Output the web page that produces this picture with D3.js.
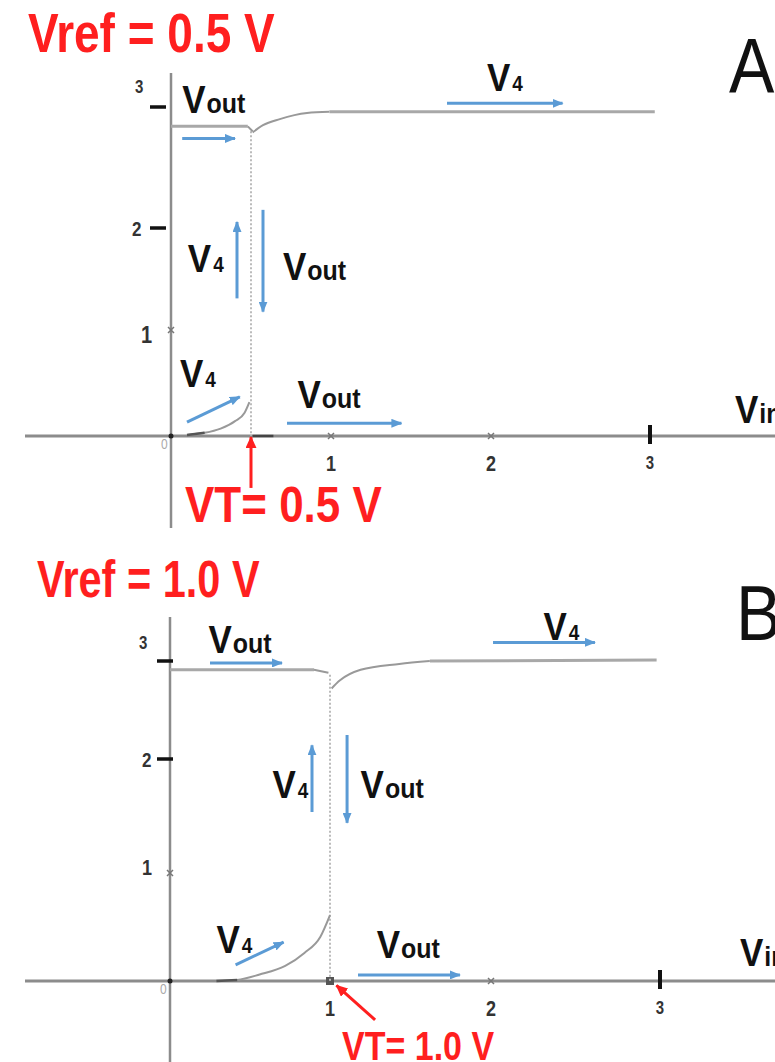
<!DOCTYPE html>
<html>
<head>
<meta charset="utf-8">
<script src="https://cdn.jsdelivr.net/npm/d3@7"></script>
<style>
  body { margin: 0; background: #fff; }
  svg { display: block; }
</style>
</head>
<body>
<script>
// ---------- data (volts) ----------
const xTicks = [1, 2, 3];
const yTicks = [1, 2, 3];

// Vref = 0.5 V
const vtA = 0.5;
const voutBeforeA = [[0, 2.84], [0.48, 2.84], [0.51, 2.80]];
const voutAfterA = [[0.51, 0], [0.64, 0]];
const v4BeforeA = [[0.10, 0.01], [0.21, 0.03], [0.31, 0.07], [0.40, 0.14], [0.46, 0.22], [0.49, 0.32]];
const v4AfterA = [[0.51, 2.79], [0.575, 2.85], [0.68, 2.90], [0.85, 2.95], [0.99, 2.96], [3.03, 2.96]];
const jumpA = [2.80, 0];
const labelsA = [
  { main: "V", sub: "out", x: 0.07, y: 2.95 },
  { main: "V", sub: "4", x: 1.975, y: 3.13 },
  { main: "V", sub: "4", x: 0.105, y: 1.57 },
  { main: "V", sub: "out", x: 0.70, y: 1.49 },
  { main: "V", sub: "4", x: 0.056, y: 0.46 },
  { main: "V", sub: "out", x: 0.79, y: 0.26 }
];
const arrowsA = [
  [[0.07, 2.74], [0.40, 2.74]],
  [[1.725, 3.03], [2.45, 3.03]],
  [[0.4125, 1.31], [0.4125, 2.05]],
  [[0.575, 2.15], [0.575, 1.18]],
  [[0.10, 0.13], [0.43, 0.37]],
  [[0.725, 0.12], [1.44, 0.12]]
];
const vtArrowA = [[0.5, -0.49], [0.5, -0.01]];

// Vref = 1.0 V
const vtB = 1.0;
const voutBeforeB = [[0, 2.91], [0.90, 2.91], [0.99, 2.88]];
const voutAfterB = [];
const v4BeforeB = [[0.29, 0], [0.42, 0.01], [0.56, 0.06], [0.72, 0.14], [0.84, 0.26], [0.94, 0.41], [1.0, 0.61]];
const v4AfterB = [[1.01, 2.72], [1.06, 2.80], [1.19, 2.91], [1.43, 2.97], [1.62, 3.0], [2.98, 3.01]];
const jumpB = [2.86, 0];
const labelsB = [
  { main: "V", sub: "out", x: 0.24, y: 3.08 },
  { main: "V", sub: "4", x: 2.31, y: 3.21 },
  { main: "V", sub: "4", x: 0.64, y: 1.66 },
  { main: "V", sub: "out", x: 1.19, y: 1.66 },
  { main: "V", sub: "4", x: 0.29, y: 0.26 },
  { main: "V", sub: "out", x: 1.29, y: 0.21 }
];
const arrowsB = [
  [[0.25, 2.98], [0.70, 2.98]],
  [[2.012, 3.19], [2.615, 3.19]],
  [[0.8875, 1.535], [0.8875, 2.14]],
  [[1.106, 2.245], [1.106, 1.44]],
  [[0.41, 0.15], [0.71, 0.36]],
  [[1.174, 0.056], [1.807, 0.056]]
];
const vtArrowB = [[1.28, -0.36], [1.04, -0.04]];

// ---------- layout ----------
const W = 775, H = 1062;
const BLUE = "#5b9bd5", RED = "#ff1f1f", AXIS = "#8c8c8c", CURVE = "#999";
const FONT = "'Liberation Sans', Arial, sans-serif";

const panels = [
  {
    letter: "A", vref: "Vref = 0.5 V", vtText: "VT= 0.5 V", vt: vtA,
    xRange: [171, 331, 491, 650], yRange: [436, 330, 228, 107],
    axisX: [25, 775], axisY: [73, 528],
    voutBefore: voutBeforeA, voutAfter: voutAfterA, v4Before: v4BeforeA, v4After: v4AfterA,
    jump: jumpA, labels: labelsA, arrows: arrowsA, vtArrow: vtArrowA,
    title: { x: 28, y: 52, size: 46, k: 1.2 },
    vtLabel: { x: 185, y: 522, size: 44, k: 1.15 },
    letterPos: { x: 729, y: 93 }, vin: { x: 735, y: 423 },
    yTickFmt: { 1: { dx: -30, dy: 13, size: 20 }, 2: { dx: -39, dy: 8, size: 17 }, 3: { dx: -36, dy: -14, size: 15 } },
    xDot1: false
  },
  {
    letter: "B", vref: "Vref = 1.0 V", vtText: "VT= 1.0 V", vt: vtB,
    xRange: [170, 330, 491, 660], yRange: [981, 873, 759, 661],
    axisX: [25, 775], axisY: [617, 1062],
    voutBefore: voutBeforeB, voutAfter: voutAfterB, v4Before: v4BeforeB, v4After: v4AfterB,
    jump: jumpB, labels: labelsB, arrows: arrowsB, vtArrow: vtArrowB,
    title: { x: 37, y: 597, size: 41.5, k: 1.24 },
    vtLabel: { x: 342, y: 1060, size: 34, k: 1.2 },
    letterPos: { x: 736, y: 640 }, vin: { x: 740, y: 966 },
    yTickFmt: { 1: { dx: -28, dy: 2, size: 18 }, 2: { dx: -28, dy: 8, size: 17 }, 3: { dx: -31, dy: -12, size: 15 } },
    xDot1: true
  }
];

const svg = d3.select("body").append("svg")
  .attr("width", W).attr("height", H)
  .attr("viewBox", `0 0 ${W} ${H}`);

const defs = svg.append("defs");
function marker(id, color, len, wid) {
  defs.append("marker")
    .attr("id", id)
    .attr("markerUnits", "userSpaceOnUse")
    .attr("markerWidth", len).attr("markerHeight", wid)
    .attr("refX", len - 1).attr("refY", wid / 2)
    .attr("orient", "auto")
    .append("path")
    .attr("d", `M0,0 L${len},${wid / 2} L0,${wid} Z`)
    .attr("fill", color);
}
marker("headBlue", BLUE, 11, 9);
marker("headRed", RED, 12, 11);

// stretched text: horizontal size from font-size, vertical stretch k
function stretchText(g, x, y, k) {
  return g.append("text")
    .attr("transform", `translate(${x},${y}) scale(1,${k})`)
    .attr("font-family", FONT);
}

panels.forEach(p => {
  const x = d3.scaleLinear().domain([0, 1, 2, 3]).range(p.xRange);
  const y = d3.scaleLinear().domain([0, 1, 2, 3]).range(p.yRange);
  const g = svg.append("g");

  // axes
  g.append("line")
    .attr("x1", p.axisX[0]).attr("x2", p.axisX[1])
    .attr("y1", y(0)).attr("y2", y(0))
    .attr("stroke", AXIS).attr("stroke-width", 3);
  g.append("line")
    .attr("x1", x(0)).attr("x2", x(0))
    .attr("y1", p.axisY[0]).attr("y2", p.axisY[1])
    .attr("stroke", AXIS).attr("stroke-width", 2.5);
  g.append("circle").attr("cx", x(0)).attr("cy", y(0)).attr("r", 2.5).attr("fill", "#222");
  stretchText(g, x(0) - 10, y(0) + 13, 1.2)
    .attr("font-size", 12).attr("fill", "#aaa").text("0");

  // x ticks
  xTicks.forEach(t => {
    const cx = x(t), cy = y(0);
    if (t === 3) {
      g.append("line").attr("x1", cx).attr("x2", cx).attr("y1", cy - 11).attr("y2", cy + 8)
        .attr("stroke", "#111").attr("stroke-width", 4);
    } else if (t === 1 && p.xDot1) {
      g.append("rect").attr("x", cx - 4).attr("y", cy - 4).attr("width", 8).attr("height", 8)
        .attr("fill", "#555");
    } else {
      g.append("path").attr("d", `M${cx - 3},${cy - 3}L${cx + 3},${cy + 3}M${cx - 3},${cy + 3}L${cx + 3},${cy - 3}`)
        .attr("stroke", "#777").attr("stroke-width", 1.5);
    }
    stretchText(g, cx, cy + (t === 3 ? 33 : 35), 1.2)
      .attr("text-anchor", "middle")
      .attr("font-size", t === 3 ? 15 : 18).attr("font-weight", "bold").attr("fill", "#333")
      .text(t);
  });

  // y ticks
  yTicks.forEach(t => {
    const cx = x(0), cy = y(t);
    const f = p.yTickFmt[t];
    if (t === 1) {
      g.append("path").attr("d", `M${cx - 3},${cy - 3}L${cx + 3},${cy + 3}M${cx - 3},${cy + 3}L${cx + 3},${cy - 3}`)
        .attr("stroke", "#777").attr("stroke-width", 1.5);
    } else {
      const x0 = p.letter === "A" ? cx - 21 : cx - 13;
      g.append("line").attr("x1", x0).attr("x2", x0 + 16).attr("y1", cy).attr("y2", cy)
        .attr("stroke", "#111").attr("stroke-width", 3.5);
    }
    stretchText(g, cx + f.dx, cy + f.dy, 1.2)
      .attr("font-size", f.size).attr("font-weight", "bold").attr("fill", "#333")
      .text(t);
  });

  const line = d3.line().x(d => x(d[0])).y(d => y(d[1]));
  const smooth = d3.line().x(d => x(d[0])).y(d => y(d[1])).curve(d3.curveMonotoneX);

  // threshold jump (dotted)
  g.append("line")
    .attr("x1", x(p.vt)).attr("x2", x(p.vt))
    .attr("y1", y(p.jump[0])).attr("y2", y(p.jump[1]))
    .attr("stroke", "#bbb").attr("stroke-width", 2).attr("stroke-dasharray", "2,2");

  // Vout branch before threshold (high), after threshold (low)
  g.append("path").datum(p.voutBefore.slice(0, 2)).attr("d", line)
    .attr("fill", "none").attr("stroke", "#a8a8a8").attr("stroke-width", 3);
  g.append("path").datum(p.voutBefore.slice(1)).attr("d", line)
    .attr("fill", "none").attr("stroke", CURVE).attr("stroke-width", 2);
  if (p.voutAfter.length) {
    g.append("path").datum(p.voutAfter).attr("d", line)
      .attr("fill", "none").attr("stroke", "#444").attr("stroke-width", 2.5);
  }

  // V4 branch before threshold (rising from 0), after threshold (near rail)
  g.append("path").datum(p.v4Before).attr("d", smooth)
    .attr("fill", "none").attr("stroke", CURVE).attr("stroke-width", 2);
  g.append("path").datum(p.v4Before.slice(0, 2)).attr("d", line)
    .attr("fill", "none").attr("stroke", "#555").attr("stroke-width", 2.5);
  g.append("path").datum(p.v4After.slice(0, -1)).attr("d", smooth)
    .attr("fill", "none").attr("stroke", CURVE).attr("stroke-width", 2);
  g.append("path").datum(p.v4After.slice(-2)).attr("d", line)
    .attr("fill", "none").attr("stroke", "#a8a8a8").attr("stroke-width", 3);

  // blue direction arrows
  g.selectAll(".arr").data(p.arrows).enter().append("line")
    .attr("x1", d => x(d[0][0])).attr("y1", d => y(d[0][1]))
    .attr("x2", d => x(d[1][0])).attr("y2", d => y(d[1][1]))
    .attr("stroke", BLUE).attr("stroke-width", 3)
    .attr("marker-end", "url(#headBlue)");

  // curve labels
  p.labels.forEach(l => {
    const t = stretchText(g, x(l.x), y(l.y), 1.12)
      .attr("font-weight", "bold").attr("fill", "#111");
    t.append("tspan").attr("font-size", 35).text(l.main);
    t.append("tspan").attr("font-size", l.sub === "4" ? 19 : 25).attr("dx", l.sub === "4" ? 2 : 1).text(l.sub);
  });

  // threshold marker
  g.append("line")
    .attr("x1", x(p.vtArrow[0][0])).attr("y1", y(p.vtArrow[0][1]))
    .attr("x2", x(p.vtArrow[1][0])).attr("y2", y(p.vtArrow[1][1]))
    .attr("stroke", RED).attr("stroke-width", 3)
    .attr("marker-end", "url(#headRed)");
  stretchText(g, p.vtLabel.x, p.vtLabel.y, p.vtLabel.k)
    .attr("font-size", p.vtLabel.size).attr("font-weight", "bold").attr("fill", RED)
    .text(p.vtText);

  // title, panel letter, axis name
  stretchText(g, p.title.x, p.title.y, p.title.k)
    .attr("font-size", p.title.size).attr("font-weight", "bold").attr("fill", RED)
    .text(p.vref);
  stretchText(g, p.letterPos.x, p.letterPos.y, 1.15)
    .attr("font-size", 68).attr("fill", "#111").text(p.letter);
  const vin = stretchText(g, p.vin.x, p.vin.y, 1.12).attr("font-weight", "bold").attr("fill", "#111");
  vin.append("tspan").attr("font-size", 35).text("V");
  vin.append("tspan").attr("font-size", 25).attr("dx", 1).text("in");
});
</script>
</body>
</html>
